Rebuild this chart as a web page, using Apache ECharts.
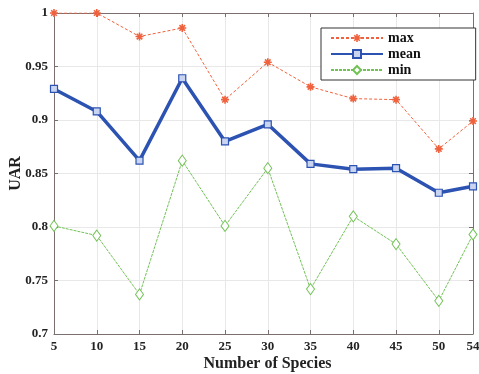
<!DOCTYPE html>
<html><head><meta charset="utf-8">
<script src="https://cdn.jsdelivr.net/npm/echarts@6/dist/echarts.min.js"></script>
<style>html,body{margin:0;padding:0;background:#fff}#c{width:479px;height:374px}</style>
</head><body><div id="c"></div>
<script>
var species = [5, 10, 15, 20, 25, 30, 35, 40, 45, 50, 54];
var maxVals = [1.0, 1.0, 0.978, 0.986, 0.919, 0.954, 0.931, 0.920, 0.919, 0.873, 0.899];
var meanVals = [0.929, 0.908, 0.862, 0.939, 0.880, 0.896, 0.859, 0.854, 0.855, 0.832, 0.838];
var minVals = [0.801, 0.792, 0.737, 0.862, 0.801, 0.855, 0.742, 0.810, 0.784, 0.731, 0.793];
var xTicks = [5, 10, 15, 20, 25, 30, 35, 40, 45, 50, 54];
var yTicks = [0.7, 0.75, 0.8, 0.85, 0.9, 0.95, 1];

function pairs(v){ return species.map(function(s,i){ return [s, v[i]]; }); }
var font = 'Liberation Serif';
var asterisk = 'path://M-1,-5h2v10h-2zM-5,-1h10v2h-10zM-2.8,-4.2L4.2,2.8L2.8,4.2L-4.2,-2.8zM2.8,-4.2L4.2,-2.8L-2.8,4.2L-4.2,2.8z';
var axisCol = '#7a6e6e';
var chart = echarts.init(document.getElementById('c'));
chart.setOption({
  animation: false,
  backgroundColor: '#fff',
  grid: {left: 54, top: 13, right: 6, bottom: 40, show: false, containLabel: false, outerBoundsMode: 'none'},
  xAxis: [{
    type: 'value', min: 5, max: 54, position: 'bottom',
    name: 'Number of Species', nameLocation: 'middle', nameGap: 22, nameMoveOverlap: false,
    nameTextStyle: {fontFamily: font, fontWeight: 'bold', fontSize: 16, color: '#222', padding: [0, 0, 0, 8]},
    axisLine: {show: true, lineStyle: {color: axisCol, width: 1}},
    axisTick: {show: true, inside: true, length: 4, customValues: xTicks, lineStyle: {color: axisCol}},
    axisLabel: {customValues: xTicks, fontFamily: font, fontWeight: 'bold', fontSize: 13, color: '#222', margin: 6},
    splitLine: {show: true, lineStyle: {color: '#e8e8e8', width: 1}}
  }, {
    type: 'value', min: 5, max: 54, position: 'top',
    axisLine: {show: true, lineStyle: {color: axisCol, width: 1}},
    axisTick: {show: true, inside: true, length: 4, customValues: xTicks, lineStyle: {color: axisCol}},
    axisLabel: {show: false}, splitLine: {show: false}
  }],
  yAxis: [{
    type: 'value', min: 0.7, max: 1, interval: 0.05, position: 'left',
    name: 'UAR', nameLocation: 'middle', nameGap: 30, nameRotate: 90, nameMoveOverlap: false,
    nameTextStyle: {fontFamily: font, fontWeight: 'bold', fontSize: 16, color: '#222'},
    axisLine: {show: true, lineStyle: {color: axisCol, width: 1}},
    axisTick: {show: true, inside: true, length: 4, lineStyle: {color: axisCol}},
    axisLabel: {fontFamily: font, fontWeight: 'bold', fontSize: 13, color: '#222', margin: 6,
      formatter: function(v){ return String(Math.round(v*100)/100); }},
    splitLine: {show: true, lineStyle: {color: '#e8e8e8', width: 1}}
  }, {
    type: 'value', min: 0.7, max: 1, interval: 0.05, position: 'right',
    axisLine: {show: true, lineStyle: {color: axisCol, width: 1}},
    axisTick: {show: true, inside: true, length: 4, lineStyle: {color: axisCol}},
    axisLabel: {show: false}, splitLine: {show: false}
  }],
  legend: {
    left: 321, top: 28, orient: 'vertical',
    itemWidth: 52, itemHeight: 10, itemGap: 2, itemTextGap: 5,
    padding: [3, 55, 3, 9],
    borderColor: '#333', borderWidth: 1, backgroundColor: '#fff',
    textStyle: {fontFamily: font, fontWeight: 'bold', fontSize: 14, lineHeight: 12, color: '#111'},
    data: ['max', 'mean', 'min']
  },
  series: [{
    name: 'max', type: 'line', data: pairs(maxVals),
    symbol: asterisk, symbolSize: 8,
    lineStyle: {color: '#f0623e', width: 1, type: [3, 2]},
    itemStyle: {color: '#f0623e'}, z: 3
  }, {
    name: 'mean', type: 'line', data: pairs(meanVals),
    symbol: 'rect', symbolSize: 7,
    lineStyle: {color: '#2c52b2', width: 3.5},
    itemStyle: {color: '#c8d4f0', borderColor: '#2c52b2', borderWidth: 1.2}, z: 4
  }, {
    name: 'min', type: 'line', data: pairs(minVals),
    symbol: 'diamond', symbolSize: [8, 11],
    lineStyle: {color: '#72c256', width: 1, type: [3, 1]},
    itemStyle: {color: '#fff', borderColor: '#72c256', borderWidth: 1}, z: 3
  }]
});
</script></body></html>
